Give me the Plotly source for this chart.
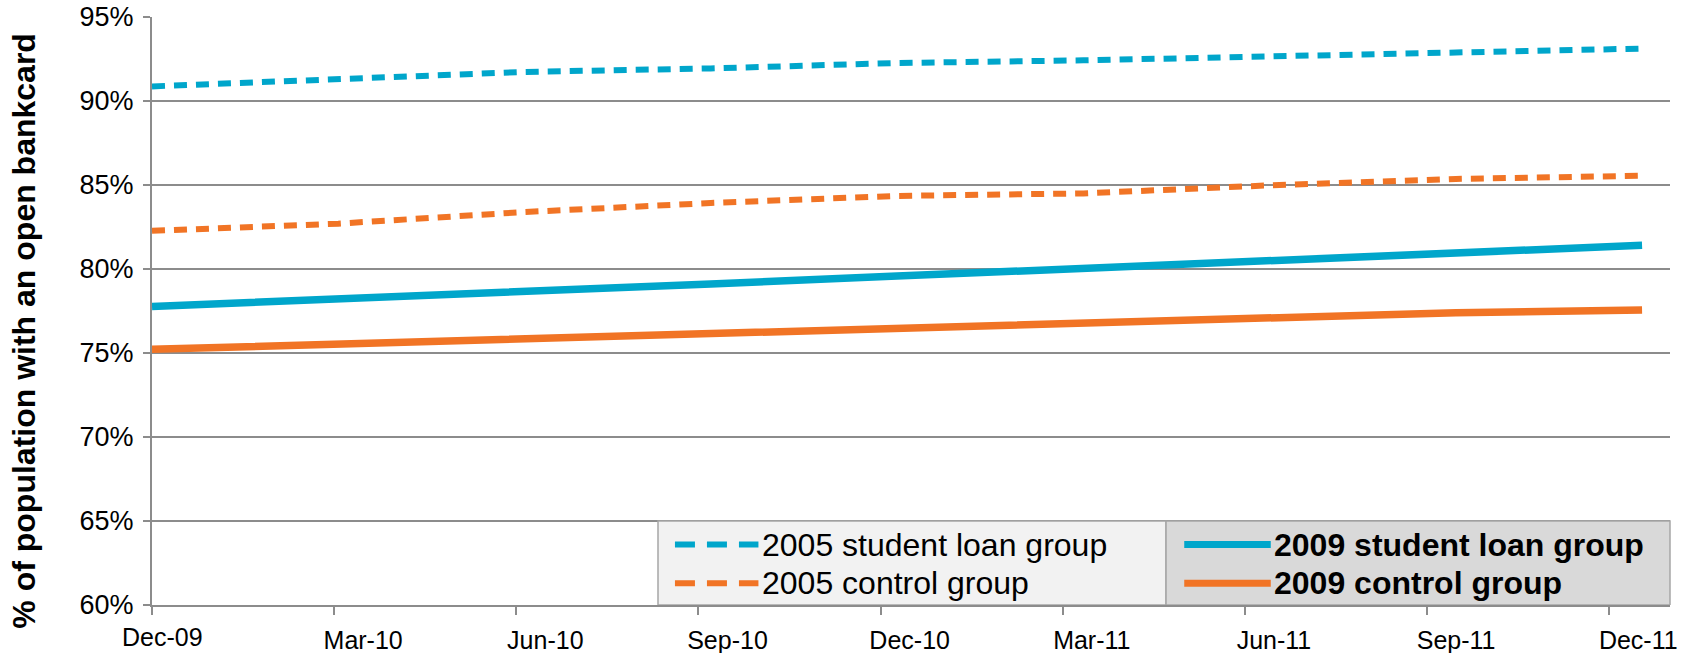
import plotly.graph_objects as go

# ---- data ----
quarters = ["Dec-09", "Mar-10", "Jun-10", "Sep-10", "Dec-10",
            "Mar-11", "Jun-11", "Sep-11", "Dec-11"]
student_2005 = [90.87, 91.27, 91.73, 91.94, 92.26, 92.42, 92.65, 92.90, 93.12]
control_2005 = [82.27, 82.70, 83.39, 83.93, 84.35, 84.50, 84.98, 85.36, 85.55]
student_2009 = [77.77, 78.19, 78.65, 79.11, 79.58, 80.04, 80.54, 81.05, 81.41]
control_2009 = [75.22, 75.54, 75.85, 76.17, 76.51, 76.81, 77.06, 77.40, 77.56]
y_ticks = [60, 65, 70, 75, 80, 85, 90, 95]

series_names = ["2005 student loan group", "2005 control group",
                "2009 student loan group", "2009 control group"]

BLUE = "#00A6CB"
ORANGE = "#F17425"
GRID = "#8C8C8C"
FONT = "Liberation Sans, Arial, sans-serif"

x = list(range(len(quarters)))
# Excel date axis: tick marks sit on calendar month starts, slightly tighter than the data spacing
TICK_STEP = 0.978
tick_pos = [i * TICK_STEP for i in x]

fig = go.Figure()
fig.add_trace(go.Scatter(x=x, y=student_2005, mode="lines", name=series_names[0],
                         line=dict(color=BLUE, width=6, dash="13px,9px")))
fig.add_trace(go.Scatter(x=x, y=control_2005, mode="lines", name=series_names[1],
                         line=dict(color=ORANGE, width=6, dash="13px,9px")))
fig.add_trace(go.Scatter(x=x, y=student_2009, mode="lines", name=series_names[2],
                         line=dict(color=BLUE, width=7.5)))
fig.add_trace(go.Scatter(x=x, y=control_2009, mode="lines", name=series_names[3],
                         line=dict(color=ORANGE, width=7.5)))

# ---- manual legend (two shaded panels) ----
shapes = [
    dict(type="rect", xref="paper", yref="y", x0=1/3, x1=0.668, y0=60, y1=65,
         fillcolor="#F2F2F2", line=dict(color="#A6A6A6", width=1.5), layer="above"),
    dict(type="rect", xref="paper", yref="y", x0=0.668, x1=1.0, y0=60, y1=65,
         fillcolor="#D9D9D9", line=dict(color="#A6A6A6", width=1.5), layer="above"),
]
rows = [63.6, 61.3]
legend_items = [
    (series_names[0], BLUE, True, 0.3445, 0.3995, rows[0], False),
    (series_names[1], ORANGE, True, 0.3445, 0.3995, rows[1], False),
    (series_names[2], BLUE, False, 0.680, 0.737, rows[0], True),
    (series_names[3], ORANGE, False, 0.680, 0.737, rows[1], True),
]
annotations = []
for name, col, dashed, xs0, xs1, yy, bold in legend_items:
    shapes.append(dict(type="line", xref="paper", yref="y", x0=xs0, x1=xs1, y0=yy, y1=yy,
                       line=dict(color=col, width=6 if dashed else 7,
                                 dash="20px,12px" if dashed else "solid"),
                       layer="above"))
    annotations.append(dict(xref="paper", yref="y", x=xs1 + 0.001, y=yy,
                            text=f"<b>{name}</b>" if bold else name,
                            showarrow=False, xanchor="left", yanchor="middle",
                            font=dict(family=FONT, size=32, color="#000000")))

# first category label sits closer to the axis than the others in the reference
annotations.append(dict(xref="x", yref="paper", x=tick_pos[0], y=0, yshift=-32,
                        xshift=10, text=quarters[0], showarrow=False,
                        xanchor="center", yanchor="middle",
                        font=dict(family=FONT, size=25, color="#000000")))
# y-axis title
annotations.append(dict(xref="paper", yref="paper", x=-0.0843, y=0.4666,
                        text="<b>% of population with an open bankcard</b>",
                        textangle=-90, showarrow=False, xanchor="center", yanchor="middle",
                        font=dict(family=FONT, size=32, color="#000000")))

fig.update_layout(
    width=1692, height=653,
    margin=dict(l=152, r=22, t=17, b=48, autoexpand=False),
    paper_bgcolor="white", plot_bgcolor="white",
    showlegend=False,
    font=dict(family=FONT, color="#000000"),
    shapes=shapes, annotations=annotations,
    xaxis=dict(range=[0, 8.15], tickmode="array", tickvals=tick_pos,
               ticktext=[""] + quarters[1:],
               automargin=False,
               showgrid=False, zeroline=False, showline=True, linecolor=GRID, linewidth=2,
               ticks="outside", ticklen=8, tickwidth=1.5, tickcolor=GRID,
               tickfont=dict(family=FONT, size=25, color="#000000"),
               ticklabelshift=29, ticklabelstandoff=4),
    yaxis=dict(range=[60, 95], tickmode="array", tickvals=y_ticks,
               ticktext=[f"{v}%" for v in y_ticks], automargin=False,
               showgrid=True, gridcolor=GRID, gridwidth=2, zeroline=False,
               showline=True, linecolor=GRID, linewidth=2,
               ticks="outside", ticklen=7, tickwidth=1.5, tickcolor=GRID,
               tickfont=dict(family=FONT, size=27, color="#000000"),
               ticklabelstandoff=4),
)

fig.write_html("out.html")
